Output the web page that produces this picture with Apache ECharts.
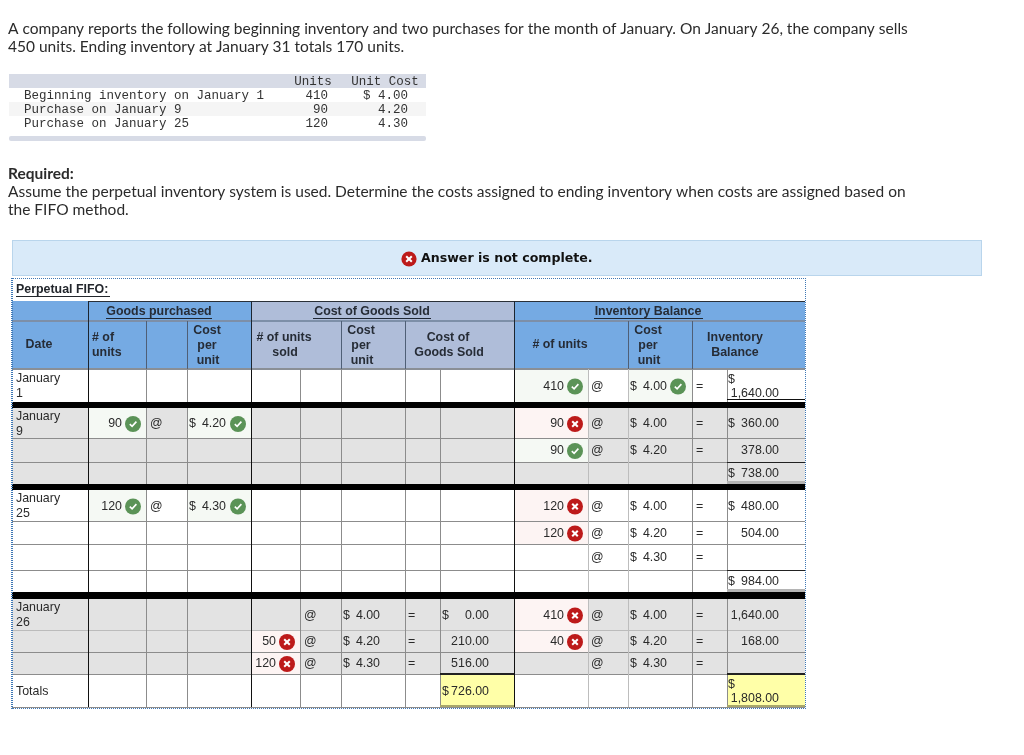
<!DOCTYPE html>
<html><head><meta charset="utf-8">
<style>html,body{margin:0;padding:0;background:#fff}#c{width:1024px;height:755px}</style>
<script src="https://cdn.jsdelivr.net/npm/echarts@6/dist/echarts.min.js"></script>
</head><body><div id="c"></div>
<script>
// ---- values ----
const introLines = ['A company reports the following beginning inventory and two purchases for the month of January. On January 26, the company sells','450 units. Ending inventory at January 31 totals 170 units.'];
const requiredLines = ['Assume the perpetual inventory system is used. Determine the costs assigned to ending inventory when costs are assigned based on','the FIFO method.'];
const stockLabels = ['Beginning inventory on January 1','Purchase on January 9','Purchase on January 25'];
const stockUnits = [410,90,120];
const stockCosts = [4.00,4.20,4.30];
const dates = ['January|1','January|9','','','January|25','','','','January|26','','','Totals'];
const purchasedUnits = [null,90,null,null,120,null,null,null,null,null,null,null];
const purchasedCosts = [null,4.20,null,null,4.30,null,null,null,null,null,null,null];
const soldUnits = [null,null,null,null,null,null,null,null,null,50,120,null];
const soldCosts = [null,null,null,null,null,null,null,null,4.00,4.20,4.30,null];
const soldTotals = [null,null,null,null,null,null,null,null,0,210,516,726];
const balanceUnits = [410,90,90,null,120,120,null,null,410,40,null,null];
const balanceCosts = [4.00,4.00,4.20,null,4.00,4.20,4.30,null,4.00,4.20,4.30,null];
const balanceTotals = [1640,360,378,738,480,504,null,984,1640,168,null,1808];
const balanceDollars = [1,1,0,1,1,0,0,1,0,0,0,1];
const purchasedMarks = ['','ok','','','ok','','','','','','',''];
const purchasedCostMarks = ['','ok','','','ok','','','','','','',''];
const soldMarks = ['','','','','','','','','','no','no',''];
const balanceMarks = ['ok','no','ok','','no','no','','','no','no','',''];
const balanceCostMarks = ['ok','','','','','','','','','','',''];

// ---- layout (pixels of the page) ----
const X = [12,88,146,187,251,300,341,405,440,514,588,628,692,727,805];
const RT = [369,408,438,462,490,521,544,570,599,630,652,674];
const RB = [402,438,462,484,521,544,570,592,630,652,674,707];
const BODY='"Lato",sans-serif', CELL='"Liberation Sans",Arial,sans-serif', MONO='"Liberation Mono",monospace';
const BODY_SIZE=15.5, CELL_SIZE=12.4, MONO_SIZE=12.5;
const prims=[];
const rect=(x0,y0,x1,y1,fill,r)=>prims.push({t:'r',x0,y0,x1,y1,fill,r:r||0});
const txt=(x,y,s,o)=>prims.push(Object.assign({t:'t',x,y:y+1,s,font:`${CELL_SIZE}px ${CELL}`,fill:'#2a2a2a',align:'left'},o||{}));
const bold=(x,y,s,o)=>txt(x,y,s,Object.assign({font:`bold ${CELL_SIZE}px ${CELL}`,fill:'#262c36',align:'center'},o||{}));
const icon=(cx,cy,kind,rad)=>prims.push({t:'i',cx,cy,kind,rad:rad||8});
const money=v=>v.toFixed(2);
const thousands=v=>v.toLocaleString('en-US',{minimumFractionDigits:2,maximumFractionDigits:2});

// intro
introLines.forEach((s,i)=>txt(8,28+i*18,s,{font:`${BODY_SIZE}px ${BODY}`,fill:'#2b2b2b'}));
// small stock table
rect(9,74,426,88,'#d7dbe6'); rect(9,102,426,116,'#f5f5f5'); rect(9,136,426,141,'#d7dbe6',2);
const mono={font:`${MONO_SIZE}px ${MONO}`,fill:'#333'};
txt(313,81,'Units',Object.assign({align:'center'},mono));
txt(385,81,'Unit Cost',Object.assign({align:'center'},mono));
stockLabels.forEach((s,i)=>{
  const y=95+i*13.8;
  txt(24,y,s,mono);
  txt(328,y,String(stockUnits[i]),Object.assign({align:'right'},mono));
  txt(408,y,(i===0?'$ ':'')+money(stockCosts[i]),Object.assign({align:'right'},mono));
});
// required
txt(8,173,'Required:',{font:`bold ${BODY_SIZE}px ${BODY}`,fill:'#2b2b2b'});
requiredLines.forEach((s,i)=>txt(8,191+i*18,s,{font:`${BODY_SIZE}px ${BODY}`,fill:'#2b2b2b'}));
// answer banner
rect(12,240,982,276,'#b9d5ec'); rect(13,241,981,275,'#d9eaf9');
icon(409,259,'no',7.6);
txt(421,258,'Answer is not complete.',{font:'bold 12.6px "DejaVu Sans",sans-serif',fill:'#111'});

// main table backgrounds
rect(12,279,805,707,'#fff');
rect(12,301,251,369,'#75aae3'); rect(251,301,514,369,'#afbdd9'); rect(514,301,805,369,'#75aae3');
RT.forEach((t,r)=>{ rect(12,t,805,RB[r],(r>=1&&r<=3)||(r>=8&&r<=10)?'#e3e3e3':'#fff'); });
// cell tints
const tint=(marks,c)=>marks.forEach((m,r)=>{ if(m) rect(X[c],RT[r],X[c+1],RB[r],m==='ok'?'#f5f9f4':'#fdf4f3'); });
tint(purchasedMarks,1); tint(purchasedCostMarks,3); tint(soldMarks,4); tint(balanceMarks,9); tint(balanceCostMarks,11);
rect(X[8],RT[11],X[9],RB[11],'#ffffa8'); rect(X[13],RT[11],X[14],RB[11],'#ffffa8');
// grid: horizontal
RB.forEach((b,r)=>{ if(r===0||r===3||r===7) return; rect(12,b,805,b+1,r===8?'#bbb':'#8c8c8c'); });
rect(88,301,805,302,'#2a3038');
rect(12,320,805,322,'#7d8fa8');
rect(12,368,805,370,'#8a8f96');
// grid: vertical
[1,2,3,4,5,6,7,8,9,10,11,12,13].forEach(c=>{
  const heavy=(c===1||c===4||c===9), light=(c===10||c===11);
  const col=heavy?'#111':(light?'#bdbdbd':'#8c8c8c');
  RT.forEach((t,r)=>rect(X[c],t,X[c]+1,RB[r],col));
});
[1,4,9].forEach(c=>rect(X[c],301,X[c]+1,370,'#1c2530'));
[2,3,6,7,11,12].forEach(c=>rect(X[c],321,X[c]+1,369,'#4f5f76'));
// balance sub-total rules
rect(727,399,805,400,'#111'); rect(727,462,805,463,'#222'); rect(727,570,805,571,'#222');
rect(727,481,805,484,'#b4b4b4'); rect(727,589,805,592,'#b4b4b4');
rect(440,673,514,675,'#222'); rect(727,673,805,675,'#222');
rect(440,705,514,707,'#a9a76a'); rect(727,705,805,707,'#a9a76a');
// thick separators
[[402,408],[484,490],[592,599]].forEach(b=>rect(12,b[0],805,b[1],'#000'));
// dotted outer border
const dots='#3f78b5';
for(let x=11;x<806;x+=2){ rect(x,278,x+1,279,dots); rect(x,708,x+1,709,dots); }
for(let y=278;y<709;y+=2){ rect(11,y,13,y+1,dots); rect(805,y,806,y+1,dots); }

// headings
txt(16,289,'Perpetual FIFO:',{font:`bold ${CELL_SIZE}px ${CELL}`,fill:'#22262c'}); rect(16,296,110,297,'#22262c');
const head=(cx,s,x0,x1)=>{bold(cx,311,s); rect(x0,318,x1,319,'#1f2733');};
head(159,'Goods purchased',106,212); head(372,'Cost of Goods Sold',313,431); head(648,'Inventory Balance',594,703);
bold(39,344,'Date');
bold(92,337,'# of',{align:'left'}); bold(92,352,'units',{align:'left'});
[207,361,648].forEach(cx=>{bold(cx,330,'Cost');bold(cx,345,'per');bold(cx+1,360,'unit');});
bold(284,337,'# of units'); bold(285,352,'sold');
bold(448,337,'Cost of'); bold(449,352,'Goods Sold');
bold(560,344,'# of units');
bold(735,337,'Inventory'); bold(735,352,'Balance');

// rows
dates.forEach((d,r)=>{
  const cy=(RT[r]+RB[r])/2, parts=d.split('|');
  if(parts.length===2){ txt(16,RT[r]+(r===0?9:8),parts[0]); txt(16,RT[r]+(r===0?24:23),parts[1]); }
  else if(d) txt(16,cy,d);
  const units=(arr,marks,c)=>{ if(arr[r]==null) return; txt(X[c+1]-24,cy,String(arr[r]),{align:'right'}); if(marks[r]) icon(X[c+1]-13,cy+1,marks[r]); };
  const cost=(arr,c)=>{ if(arr[r]==null) return; txt(X[c]+2,cy,'$'); txt(X[c]+39,cy,money(arr[r]),{align:'right'}); };
  units(purchasedUnits,purchasedMarks,1);
  if(purchasedUnits[r]!=null) txt(X[2]+4,cy,'@');
  cost(purchasedCosts,3); if(purchasedCostMarks[r]) icon(X[4]-13,cy+1,purchasedCostMarks[r]);
  units(soldUnits,soldMarks,4);
  if(soldCosts[r]!=null){ txt(X[5]+4,cy,'@'); txt(X[7]+3,cy,'='); }
  cost(soldCosts,6);
  if(soldTotals[r]!=null){
    txt(489,cy,money(soldTotals[r]),{align:'right'});
    if(r===8||r===11) txt(442,cy,'$');
  }
  units(balanceUnits,balanceMarks,9);
  if(balanceCosts[r]!=null){ txt(X[10]+3,cy,'@'); txt(X[12]+4,cy,'='); }
  cost(balanceCosts,11); if(balanceCostMarks[r]) icon(X[12]-14,cy+1,balanceCostMarks[r]);
  if(balanceTotals[r]!=null){
    const split=balanceTotals[r]>=1000&&balanceDollars[r];
    txt(779,split?cy+7:cy,thousands(balanceTotals[r]),{align:'right'});
    if(balanceDollars[r]) txt(728,split?cy-7:cy,'$');
  }
});

const chart=echarts.init(document.getElementById('c'),null,{renderer:'canvas'});
chart.setOption({
  animation:false,
  backgroundColor:'#fff',
  grid:{left:0,top:0,right:0,bottom:0},
  xAxis:{type:'value',min:0,max:1024,show:false},
  yAxis:{type:'value',min:0,max:755,inverse:true,show:false},
  tooltip:{show:false},
  series:[{
    type:'custom',coordinateSystem:'cartesian2d',silent:true,clip:false,
    data:prims.map((_,i)=>[i]),
    encode:{x:0,y:0},
    renderItem(params,api){
      const p=prims[params.dataIndex];
      if(p.t==='r'){
        const a=api.coord([p.x0,p.y0]),b=api.coord([p.x1,p.y1]);
        return {type:'rect',shape:{x:a[0],y:a[1],width:b[0]-a[0],height:b[1]-a[1],r:p.r},style:{fill:p.fill}};
      }
      if(p.t==='t'){
        const a=api.coord([p.x,p.y]);
        return {type:'text',style:{x:a[0],y:a[1],text:p.s,font:p.font,fill:p.fill,align:p.align,verticalAlign:'middle'}};
      }
      const c=api.coord([p.cx,p.cy]),R=p.rad,ok=p.kind==='ok';
      const children=[{type:'circle',shape:{cx:c[0],cy:c[1],r:R},style:{fill:ok?'#5b9357':'#bd1a1a'}}];
      if(ok) children.push({type:'polyline',shape:{points:[[c[0]-3.2,c[1]+0.2],[c[0]-0.9,c[1]+2.4],[c[0]+3.4,c[1]-2.4]]},style:{stroke:'#fff',lineWidth:1.6,fill:null}});
      else children.push({type:'line',shape:{x1:c[0]-2.8,y1:c[1]-2.8,x2:c[0]+2.8,y2:c[1]+2.8},style:{stroke:'#fff',lineWidth:2}},
                         {type:'line',shape:{x1:c[0]-2.8,y1:c[1]+2.8,x2:c[0]+2.8,y2:c[1]-2.8},style:{stroke:'#fff',lineWidth:2}});
      return {type:'group',children};
    }
  }]
});
</script></body></html>
